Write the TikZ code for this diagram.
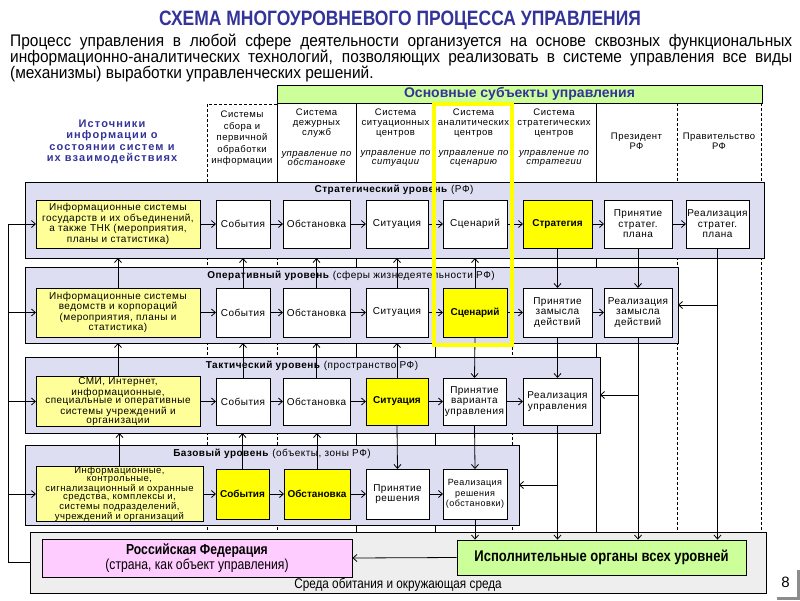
\documentclass[tikz,border=0pt]{standalone}
\usepackage{fontspec}
\setmainfont{Liberation Sans}
\newfontfamily\nar[FakeStretch=0.84]{Liberation Sans}
\newfontfamily\narb[FakeStretch=0.92]{Liberation Sans}
\newfontfamily\wid[LetterSpace=5]{Liberation Sans}
\usetikzlibrary{arrows.meta}
\definecolor{navy}{RGB}{51,51,153}
\definecolor{lvlc}{RGB}{222,222,242}
\definecolor{infoy}{RGB}{255,255,153}
\definecolor{hiy}{RGB}{255,255,0}
\definecolor{grn}{RGB}{204,255,153}
\definecolor{pnk}{RGB}{255,204,255}
\definecolor{bgc}{RGB}{238,238,238}
\newcommand\bx[7]{\node[#6,minimum width={(#3-#2)*1pt},minimum height={(#5-#4)*1pt}] (#1) at ({(#2+#3)/2},{(#4+#5)/2}) {#7};}
\newcommand\bfs{\fontsize{10}{10.5}\selectfont}
\tikzset{
 cell/.style={draw, line width=0.8pt, fill=white, align=center, inner sep=1pt, outer sep=0pt, font=\wid\bfs},
 icell/.style={cell, fill=infoy},
 ycell/.style={cell, fill=hiy, font=\bfseries\bfs},
 lvl/.style={draw, line width=1pt, fill=lvlc, inner sep=0pt, outer sep=0pt},
 con/.style={line width=0.8pt, -{Straight Barb[length=4pt,width=7pt,line width=0.8pt]}},
 ln/.style={line width=0.8pt},
 sepl/.style={line width=0.7pt},
 dsepl/.style={line width=0.7pt, dash pattern=on 3pt off 2pt},
 htx/.style={align=center, inner sep=0pt, font=\wid\fontsize{9.5}{10}\selectfont},
 hit/.style={align=center, inner sep=0pt, font=\wid\itshape\fontsize{9.5}{9}\selectfont},
 ltitle/.style={inner sep=0pt, font=\wid\fontsize{10}{10}\selectfont},
}
\begin{document}
\begin{tikzpicture}[x=1pt,y=-1pt]
\useasboundingbox (0,0) rectangle (800,600);
\fill[white] (0,0) rectangle (800,600);
% column separators
\foreach \x in {277,356,435,512,596} \draw[sepl] (\x,103) -- (\x,182);
\foreach \x in {677,761} \draw[dsepl] (\x,103) -- (\x,182);
\foreach \x in {207,277,512,677,761} \draw[dsepl] (\x,182) -- (\x,532);
\foreach \x in {356,435,596} \draw[sepl] (\x,182) -- (\x,532);
\draw[dsepl] (207,182) -- (207,104) -- (277,104);
% header
\bx{hdr}{277}{762}{85}{103}{draw, line width=0.8pt, fill=grn, text=navy, font=\bfseries\fontsize{14}{14}\selectfont, inner sep=0pt}{Основные субъекты управления}
\node[htx, font=\wid\fontsize{9.5}{11.5}\selectfont] at (242,138.5) {Системы\\сбора и\\первичной\\обработки\\информации};
\node[htx] at (316.5,123) {Система\\дежурных\\служб};
\node[hit] at (316.5,158) {управление по\\обстановке};
\node[htx] at (395.5,123) {Система\\ситуационных\\центров};
\node[hit] at (395.5,158) {управление по\\ситуации};
\node[htx] at (473.5,123) {Система\\аналитических\\центров};
\node[hit] at (473.5,158) {управление по\\сценарию};
\node[htx] at (554,123) {Система\\стратегических\\центров};
\node[hit] at (554,158) {управление по\\стратегии};
\node[htx] at (636.5,141) {Президент\\РФ};
\node[htx] at (719,141) {Правительство\\РФ};
% level containers
\bx{sL}{25}{764}{182}{258}{lvl}{}
\bx{oL}{25}{678}{267}{343}{lvl}{}
\bx{tL}{25}{600}{357}{433}{lvl}{}
\bx{bB}{25}{519}{445}{525}{lvl}{}
\bx{bL}{30}{766}{532}{593}{draw, line width=1pt, fill=bgc, inner sep=0pt, outer sep=0pt}{}
% level titles
\node[ltitle] at (394,190) {\textbf{Стратегический уровень} (РФ)};
\node[ltitle] at (351,276) {\textbf{Оперативный уровень} (сферы жизнедеятельности РФ)};
\node[ltitle] at (312,366) {\textbf{Тактический уровень} (пространство РФ)};
\node[ltitle] at (272,454) {\textbf{Базовый уровень} (объекты, зоны РФ)};
% strategic
\bx{s0}{36}{200}{200}{248}{icell}{Информационные системы\\государств и их объединений,\\а также ТНК (мероприятия,\\планы и статистика)}
\bx{s1}{216}{270}{200}{248}{cell}{События}
\bx{s2}{283}{350}{200}{248}{cell}{Обстановка}
\bx{s3}{366}{428}{200}{248}{cell}{Ситуация}
\bx{s4}{443}{507}{200}{248}{cell}{Сценарий}
\bx{s5}{523}{592}{200}{248}{ycell}{Стратегия}
\bx{s6}{604}{672}{200}{248}{cell}{Принятие\\стратег.\\плана}
\bx{s7}{686}{749}{200}{248}{cell}{Реализация\\стратег.\\плана}
% operational
\bx{o0}{36}{200}{288}{337}{icell}{Информационные системы\\ведомств и корпораций\\(мероприятия, планы и\\статистика)}
\bx{o1}{216}{270}{288}{337}{cell}{События}
\bx{o2}{283}{350}{288}{337}{cell}{Обстановка}
\bx{o3}{366}{428}{288}{337}{cell}{Ситуация}
\bx{o4}{443}{507}{288}{337}{ycell}{Сценарий}
\bx{o5}{523}{592}{288}{337}{cell}{Принятие\\замысла\\действий}
\bx{o6}{604}{672}{288}{337}{cell}{Реализация\\замысла\\действий}
% tactical
\bx{t0}{36}{200}{378}{425}{icell, font=\wid\fontsize{10}{8.8}\selectfont}{СМИ, Интернет,\\информационные,\\специальные и оперативные\\системы учреждений и\\организации}
\bx{t1}{216}{270}{378}{425}{cell}{События}
\bx{t2}{283}{350}{378}{425}{cell}{Обстановка}
\bx{t3}{366}{428}{378}{425}{ycell}{Ситуация}
\bx{t4}{443}{506}{378}{425}{cell}{Принятие\\варианта\\управления}
\bx{t5}{523}{592}{378}{425}{cell}{Реализация\\управления}
% base
\bx{b0}{36}{203}{469}{519}{icell, inner sep=0pt, font=\wid\fontsize{9.5}{8.2}\selectfont}{Информационные,\\контрольные,\\сигнализационный и охранные\\средства, комплексы и,\\системы подразделений,\\учреждений и организаций}
\bx{b1}{216}{269}{469}{519}{ycell}{События}
\bx{b2}{284}{350}{469}{519}{ycell}{Обстановка}
\bx{b3}{366}{429}{469}{519}{cell}{Принятие\\решения}
\bx{b4}{443}{507}{469}{519}{cell, font=\wid\fontsize{9}{10.5}\selectfont}{Реализация\\решения\\(обстановки)}
% bottom
\bx{rf}{42}{352}{539}{577}{draw, line width=0.8pt, fill=pnk, align=center, inner sep=0pt, font=\nar\fontsize{14.5}{13.5}\selectfont}{\textbf{Российская Федерация}\\(страна, как объект управления)}
\bx{ex}{457}{746}{540}{575}{draw, line width=0.8pt, fill=grn, inner sep=0pt, font=\nar\bfseries\fontsize{15.5}{16}\selectfont}{Исполнительные органы всех уровней}
\node[font=\nar\fontsize{14}{14}\selectfont, inner sep=0pt] at (398,585) {Среда обитания и окружающая среда};
% horizontal chains
\foreach \a/\b in {s0/s1,s1/s2,s2/s3,s3/s4,s4/s5,s5/s6,s6/s7,o0/o1,o1/o2,o2/o3,o3/o4,o4/o5,o5/o6,t0/t1,t1/t2,t2/t3,t3/t4,t4/t5,b0/b1,b1/b2,b2/b3,b3/b4}
  \draw[con] (\a) -- (\b);
% upward
\foreach \n in {0,...,4} \draw[con] (o\n.north) -- (o\n.north |- sL.south);
\foreach \n in {0,...,3} \draw[con] (t\n.north) -- (t\n.north |- oL.south);
\foreach \n in {0,1,2} \draw[con] (b\n.north) -- (b\n.north |- tL.south);
% downward
\foreach \a/\b in {s5/o5,s6/o6,o4/t4,o5/t5,t3/b3,t4/b4}
  \draw[con] (\a.south) -- (\b.north);
% realization to executive bodies
\foreach \a in {s7,o6,t5,b4} \draw[con] (\a.south) -- (\a.south |- ex.north);
% feedback
\draw[con] (s7.south |- oL.east) -- (oL.east);
\draw[con] (o6.south |- tL.east) -- (tL.east);
\draw[con] (t5.south |- bB.east) -- (bB.east);
% left loop
\coordinate (lp) at (8,300);
\draw[ln] (bL.west) -- (lp |- bL.west) -- (lp |- s0.west);
\foreach \n in {s0,o0,t0,b0} \draw[con] (lp |- \n.west) -- (\n.west);
% bottom arrow
\draw[con] (ex.west) -- (rf.east);
% yellow frame
\draw[hiy, line width=4pt] (434,104) rectangle (511.5,345);
% sources text
\node[align=center, inner sep=0pt, text=navy, font=\wid\bfseries\addfontfeature{LetterSpace=10}\fontsize{11}{11.4}\selectfont] at (112,142) {Источники\\информации о\\состоянии систем и\\их взаимодействиях};
% title and intro
\node[inner sep=0pt, text=navy, font=\nar\bfseries\fontsize{20.8}{21}\selectfont] at (400,20) {СХЕМА МНОГОУРОВНЕВОГО ПРОЦЕССА УПРАВЛЕНИЯ};
\node[anchor=north west, inner sep=0pt, text width=782pt, align=justify, font=\narb\fontsize{16.8}{16}\selectfont] at (10,34) {\tolerance=9999 Процесс управления в любой сфере деятельности организуется на основе сквозных функциональных\linebreak информационно-аналитических технологий, позволяющих реализовать в системе управления все виды\linebreak (механизмы) выработки управленческих решений.};
% page number
\fill[black!45] (777,570) rectangle (800,600);
\fill[white] (774,567) rectangle (797,597);
\node[inner sep=0pt, font=\fontsize{15}{15}\selectfont] at (785.5,582) {8};
\end{tikzpicture}
\end{document}
